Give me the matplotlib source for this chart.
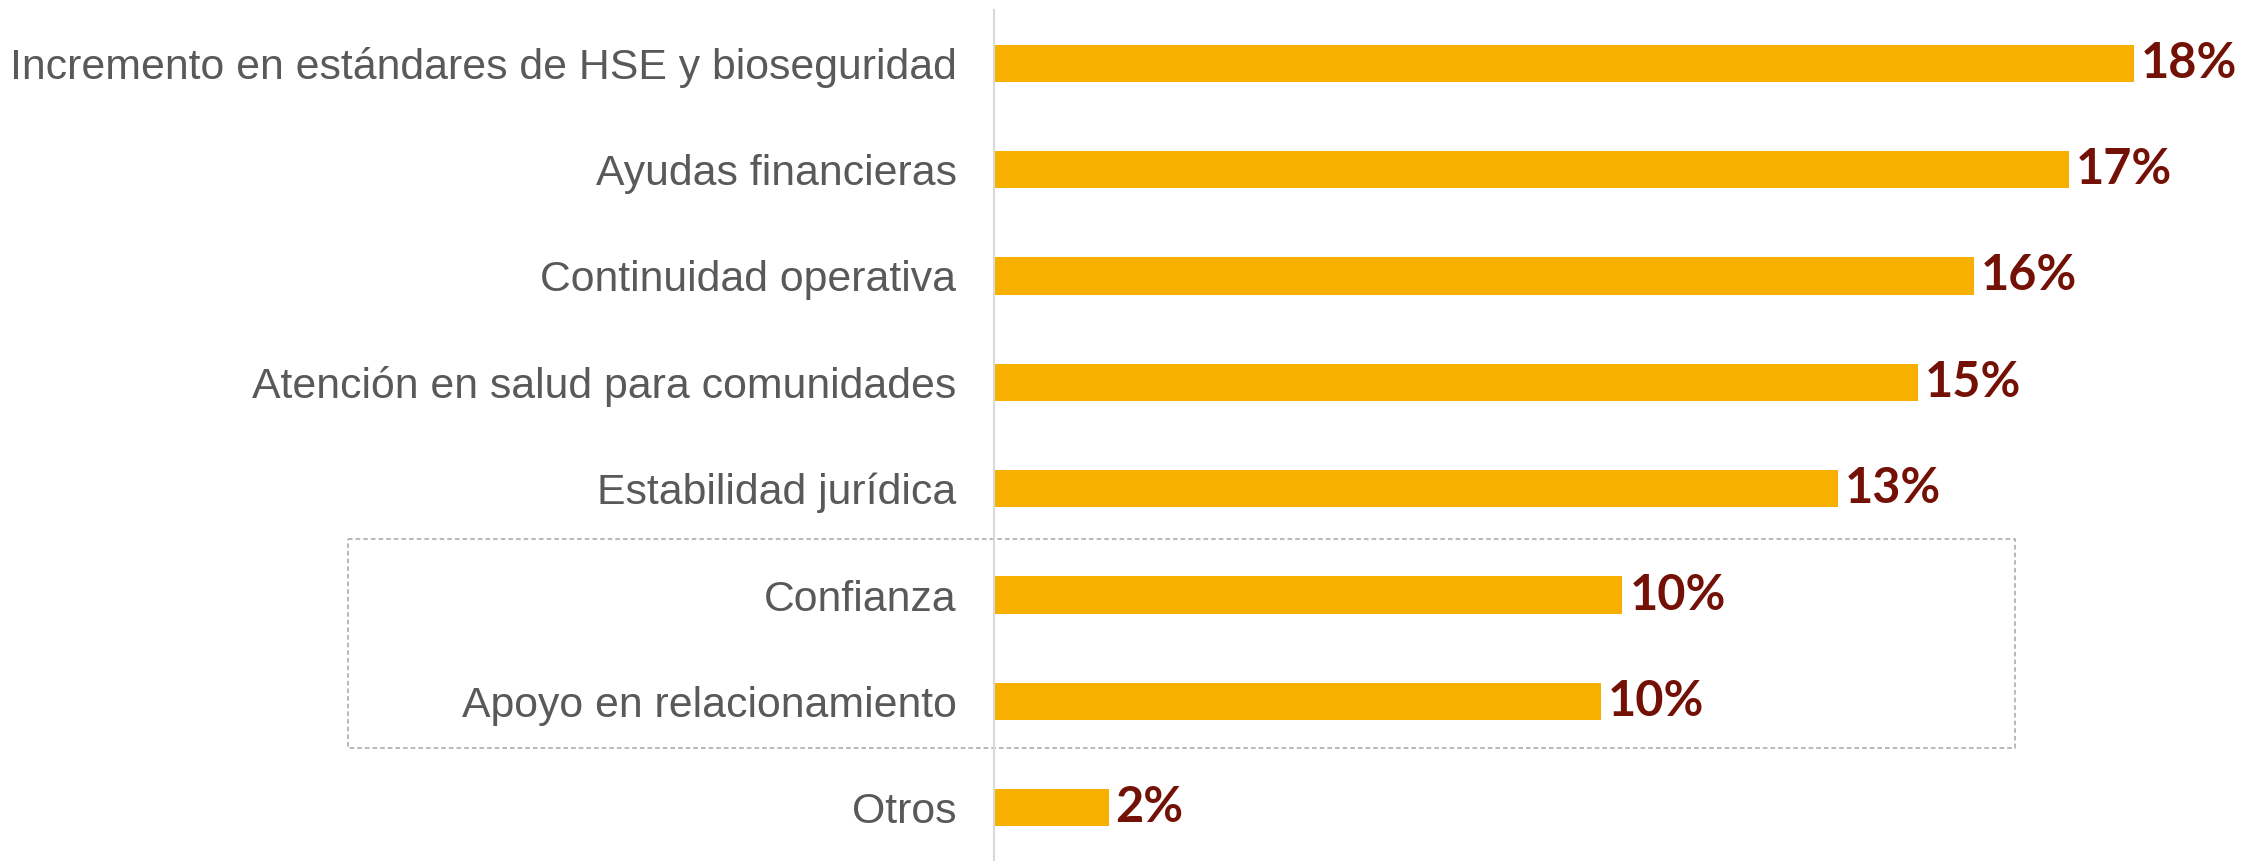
import matplotlib.pyplot as plt
import matplotlib.transforms as mtransforms
from matplotlib.patches import Rectangle

# Data (percent)
categories = [
    "Incremento en estándares de HSE y bioseguridad",
    "Ayudas financieras",
    "Continuidad operativa",
    "Atención en salud para comunidades",
    "Estabilidad jurídica",
    "Confianza",
    "Apoyo en relacionamiento",
    "Otros",
]
values = [18.11, 17.07, 15.57, 14.68, 13.41, 9.98, 9.64, 1.82]
highlighted = ["Confianza", "Apoyo en relacionamiento"]

BAR_COLOR = "#F7AF00"
LABEL_COLOR = "#741106"
TEXT_COLOR = "#595959"

fig = plt.figure(figsize=(22.44, 8.61), dpi=100)
ax = fig.add_axes([994 / 2244, 0.0, 1 - 994 / 2244, 851 / 861])

y = list(range(len(categories)))
ax.barh(y, values, height=0.35, color=BAR_COLOR)
ax.set_ylim(len(categories) - 0.5, -0.5)
ax.set_xlim(0, (2244 - 994) / 62.96)

ax.set_yticks(y)
ax.set_yticklabels(categories, fontsize=30.8, color=TEXT_COLOR,
                   family=["Liberation Sans", "DejaVu Sans"])
ax.tick_params(axis="y", length=0, pad=27)
ax.set_xticks([])

for side in ["top", "right", "bottom"]:
    ax.spines[side].set_visible(False)
ax.spines["left"].set_color("#d9d9d9")
ax.spines["left"].set_linewidth(1.5)

for yi, v in zip(y, values):
    ax.annotate(f"{v:.0f}%", xy=(v, yi), xytext=(5, 0), textcoords="offset points",
                ha="left", va="center", fontsize=35, fontweight="bold",
                color=LABEL_COLOR, family=["Lato", "DejaVu Sans"])

# dashed box around the highlighted group
i0 = categories.index(highlighted[0])
i1 = categories.index(highlighted[-1])
trans = mtransforms.blended_transform_factory(fig.transFigure, ax.transData)
top = i0 - 0.524
bottom = i1 + 0.435
box = Rectangle((348 / 2244, top), (2015 - 348) / 2244, bottom - top,
                transform=trans, fill=False, edgecolor="#a6a6a6",
                linewidth=1.1, linestyle=(0, (3, 2)), clip_on=False)
ax.add_patch(box)

fig.savefig("out.png", dpi=100)
plt.close(fig)
